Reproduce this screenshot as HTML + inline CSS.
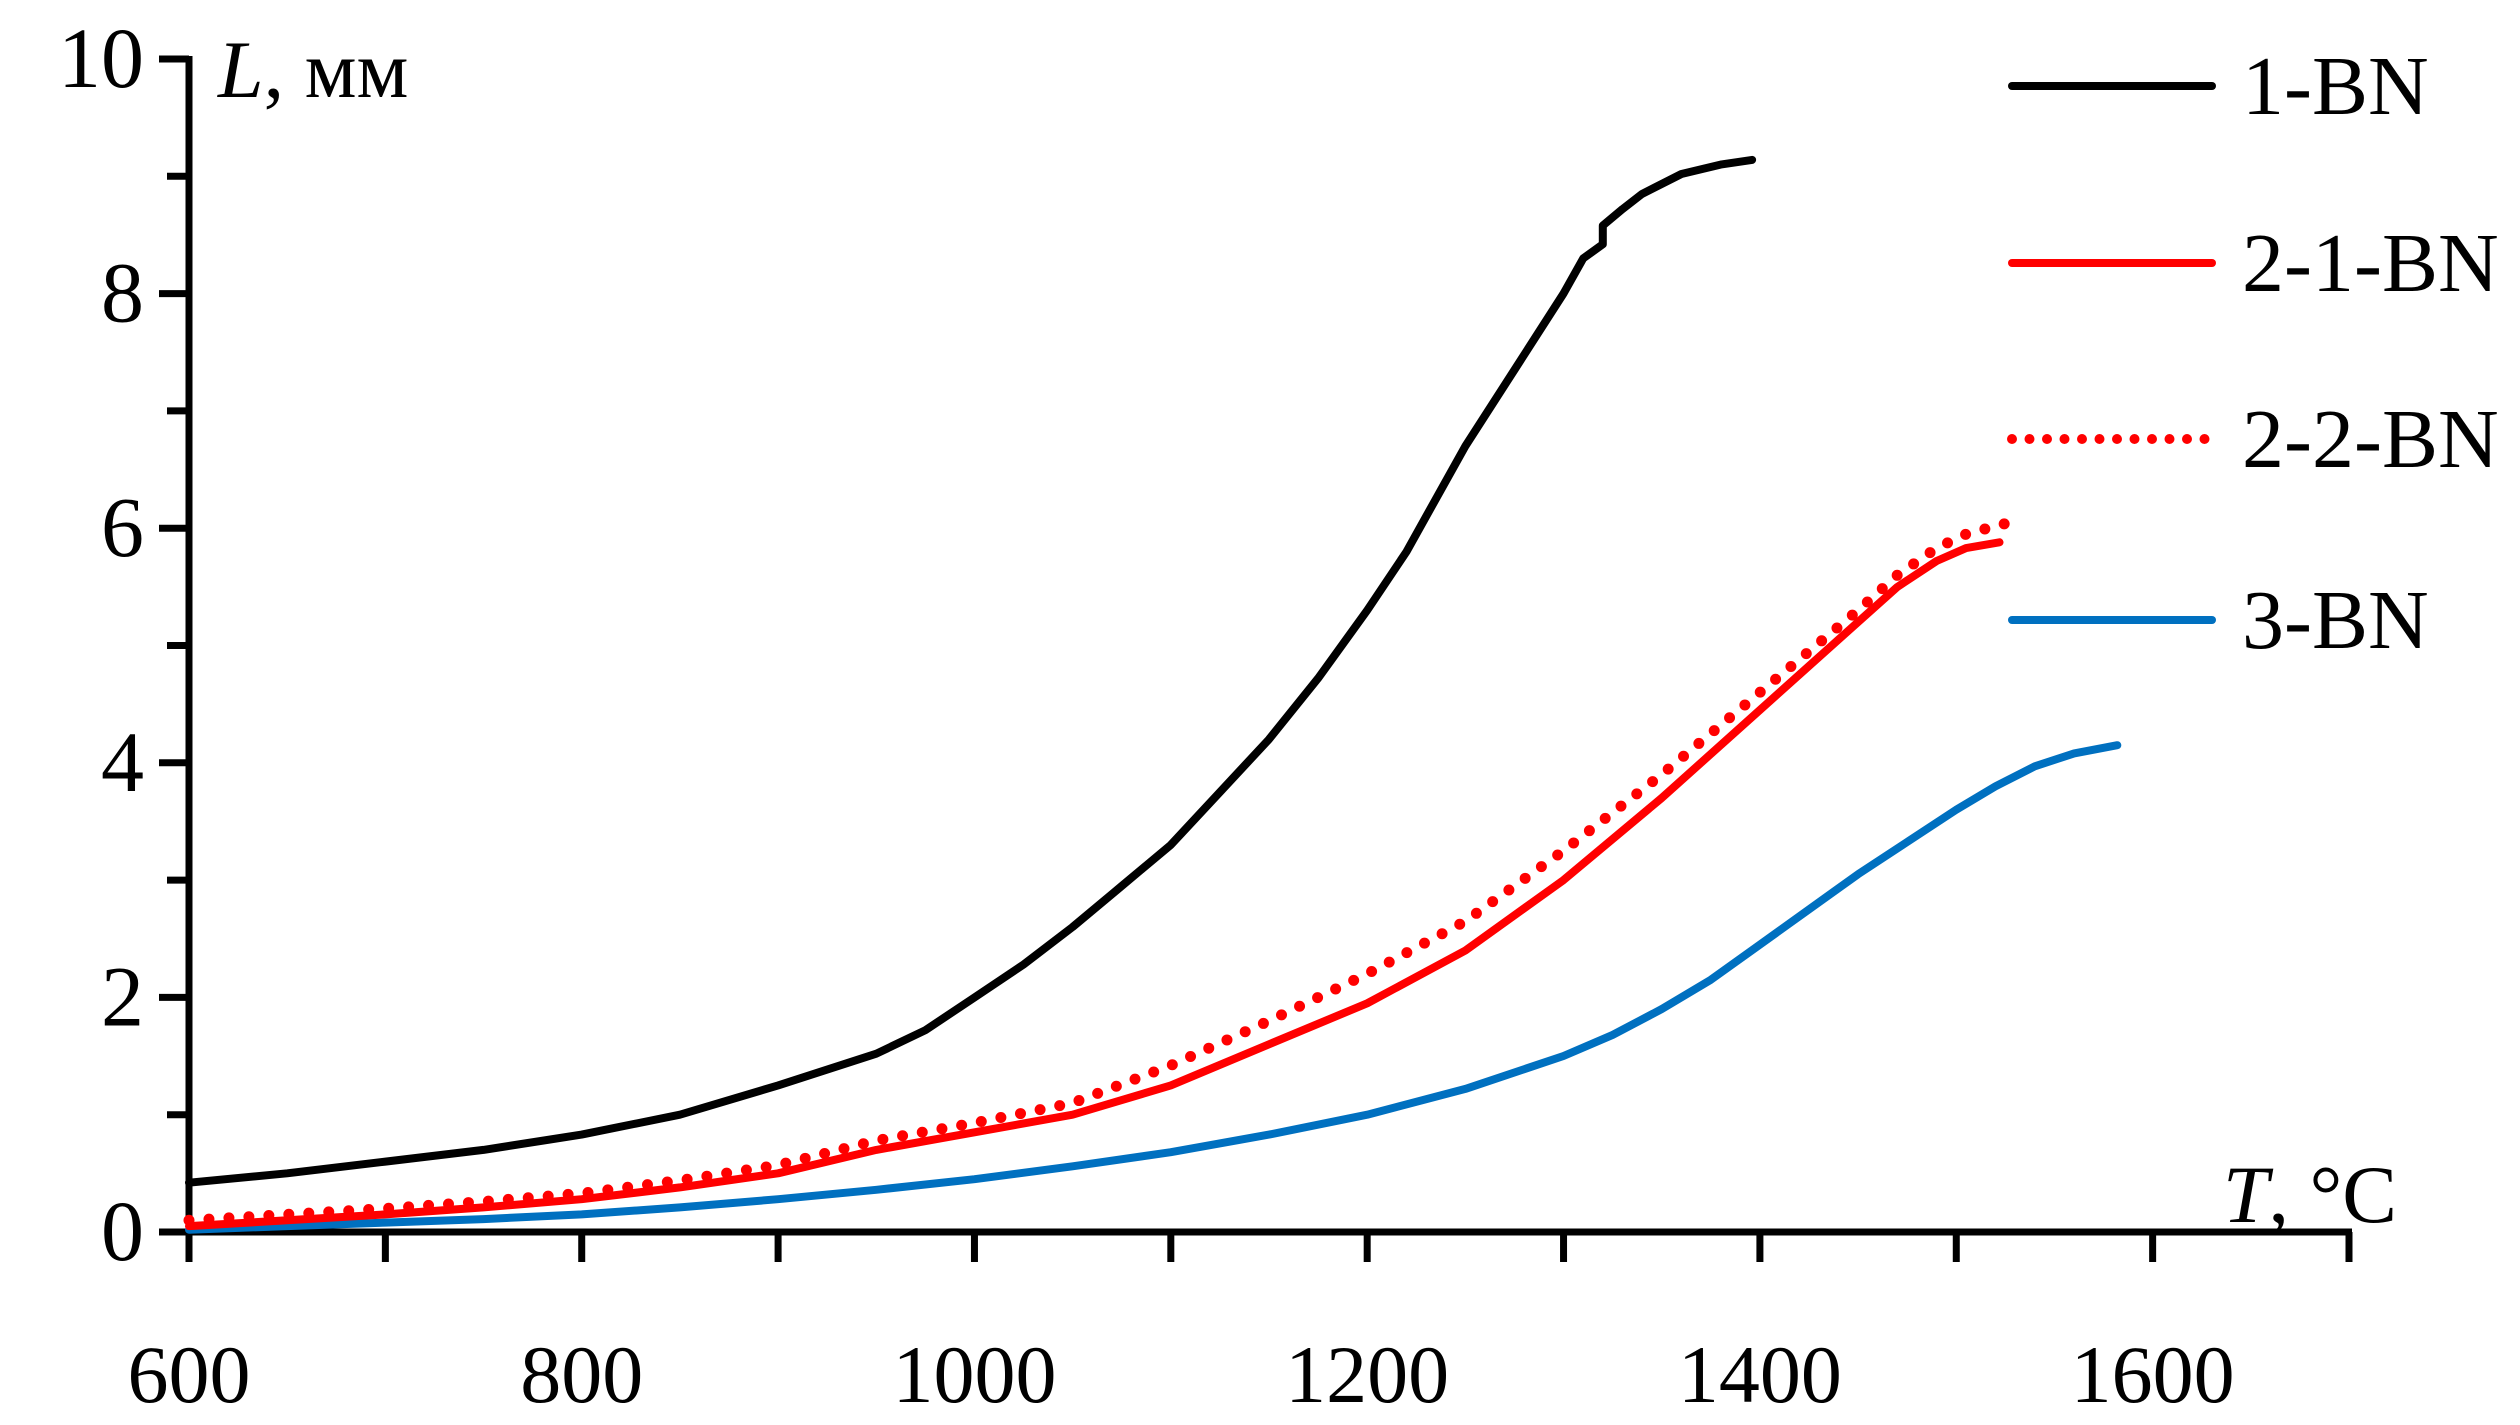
<!DOCTYPE html>
<html><head><meta charset="utf-8"><style>
html,body{margin:0;padding:0;background:#fff;}
svg{display:block;}
text{font-family:"Liberation Serif",serif;fill:#000;}
</style></head><body>
<svg id="chart" width="2520" height="1425" viewBox="0 0 2520 1425" xmlns="http://www.w3.org/2000/svg">
<g id="axes"></g>
<g id="series"></g>
<g id="legend"></g>
<text x="218" y="97" font-size="82"><tspan font-style="italic">L</tspan>, мм</text>
<text x="2397" y="1222" font-size="82" text-anchor="end"><tspan font-style="italic">T</tspan>, °C</text>
</svg>
<script>
const xTicks=[600,800,1000,1200,1400,1600];
const yTicks=[0,2,4,6,8,10];
const t1=[600,650,700,750,800,850,900,950,975,1000,1025,1050,1075,1100,1125,1150,1175,1200,1220,1235,1250,1275,1300,1310,1320,1320,1330,1340,1360,1380,1396];
const l1=[0.42,0.5,0.6,0.7,0.83,1.0,1.25,1.52,1.72,2.0,2.28,2.6,2.95,3.3,3.75,4.2,4.72,5.3,5.8,6.25,6.7,7.35,8.0,8.3,8.42,8.58,8.72,8.85,9.02,9.1,9.14];
const t21=[600,650,700,750,800,850,900,950,1000,1050,1100,1150,1200,1250,1300,1350,1400,1450,1470,1490,1505,1522];
const l21=[0.05,0.1,0.15,0.21,0.28,0.38,0.5,0.7,0.85,1.0,1.25,1.6,1.95,2.4,3.0,3.7,4.45,5.2,5.5,5.72,5.83,5.88];
const t22=[600,650,700,750,800,850,900,950,1000,1050,1100,1150,1200,1250,1300,1350,1400,1450,1470,1490,1505,1525];
const l22=[0.1,0.15,0.2,0.26,0.33,0.44,0.57,0.78,0.93,1.1,1.42,1.8,2.2,2.65,3.25,3.9,4.6,5.3,5.6,5.83,5.95,6.04];
const t3=[600,650,700,750,800,850,900,950,1000,1050,1100,1150,1200,1250,1300,1325,1350,1375,1400,1450,1500,1520,1540,1560,1582];
const l3=[0.02,0.05,0.08,0.11,0.15,0.21,0.28,0.36,0.45,0.56,0.68,0.83,1.0,1.22,1.5,1.68,1.9,2.15,2.45,3.05,3.6,3.8,3.97,4.08,4.15];
const legendLabels=["1-BN","2-1-BN","2-2-BN","3-BN"];

const NS="http://www.w3.org/2000/svg";
const X0=189,X1=2349,T0=600,T1=1700,Y0=1232,Y1=59;
function sx(t){return X0+(t-T0)*(X1-X0)/(T1-T0);}
function sy(v){return Y0-v*(Y0-Y1)/10;}
function mk(tag,attrs,parent){const e=document.createElementNS(NS,tag);for(const k in attrs)e.setAttribute(k,attrs[k]);parent.appendChild(e);return e;}
const axes=document.getElementById('axes');
let e=mk('line',{x1:X0,y1:Y1-3,x2:X0,y2:Y0+3,stroke:'#000','stroke-width':7},axes);


e=mk('line',{x1:X0-3,y1:Y0,x2:X1+3,y2:Y0,stroke:'#000','stroke-width':7},axes);


for(let v=0;v<=10;v++){
  const major=v%2===0;
  e=mk('line',{x1:X0-(major?30:22),y1:sy(v),x2:X0,y2:sy(v),stroke:'#000','stroke-width':7},axes);
  
  
}
yTicks.forEach(v=>{
  e=mk('text',{x:144,y:sy(v)+28,'font-size':86,'text-anchor':'end'},axes);
  e.textContent=v;
  
  
});
for(let t=600;t<=1700;t+=100){
  e=mk('line',{x1:sx(t),y1:Y0,x2:sx(t),y2:Y0+30,stroke:'#000','stroke-width':7},axes);
  
  
}
xTicks.forEach(t=>{
  e=mk('text',{x:sx(t),y:1402,'font-size':82,'text-anchor':'middle'},axes);
  e.textContent=t;
  
  
});
const series=document.getElementById('series');
function path(ts,ls){return ts.map((t,i)=>(i?'L':'M')+sx(t).toFixed(1)+' '+sy(ls[i]).toFixed(1)).join(' ');}
e=mk('path',{d:path(t3,l3),fill:'none',stroke:'#0070C0','stroke-width':8,'stroke-linecap':'round','stroke-linejoin':'round'},series);


e=mk('path',{d:path(t21,l21),fill:'none',stroke:'#FF0000','stroke-width':8,'stroke-linecap':'round','stroke-linejoin':'round'},series);


e=mk('path',{d:path(t22,l22),fill:'none',stroke:'#FF0000','stroke-width':11,'stroke-linecap':'round','stroke-dasharray':'0 20'},series);


e=mk('path',{d:path(t1,l1),fill:'none',stroke:'#000','stroke-width':8,'stroke-linecap':'round','stroke-linejoin':'round'},series);


const legend=document.getElementById('legend');
const ly=[86,263,439,620];
const lcol=['#000','#FF0000','#FF0000','#0070C0'];
legendLabels.forEach((lab,i)=>{
  const g=mk('g',{},legend);
  
  
  const dotted=i===2;
  mk('line',{x1:2012,y1:ly[i],x2:2212,y2:ly[i],stroke:lcol[i],'stroke-width':dotted?10:8,'stroke-linecap':'round','stroke-dasharray':dotted?'0 17.5':'none'},g);
  const tx=mk('text',{x:2242,y:ly[i]+28,'font-size':84},g);
  tx.textContent=lab;
});
</script>
</body></html>
